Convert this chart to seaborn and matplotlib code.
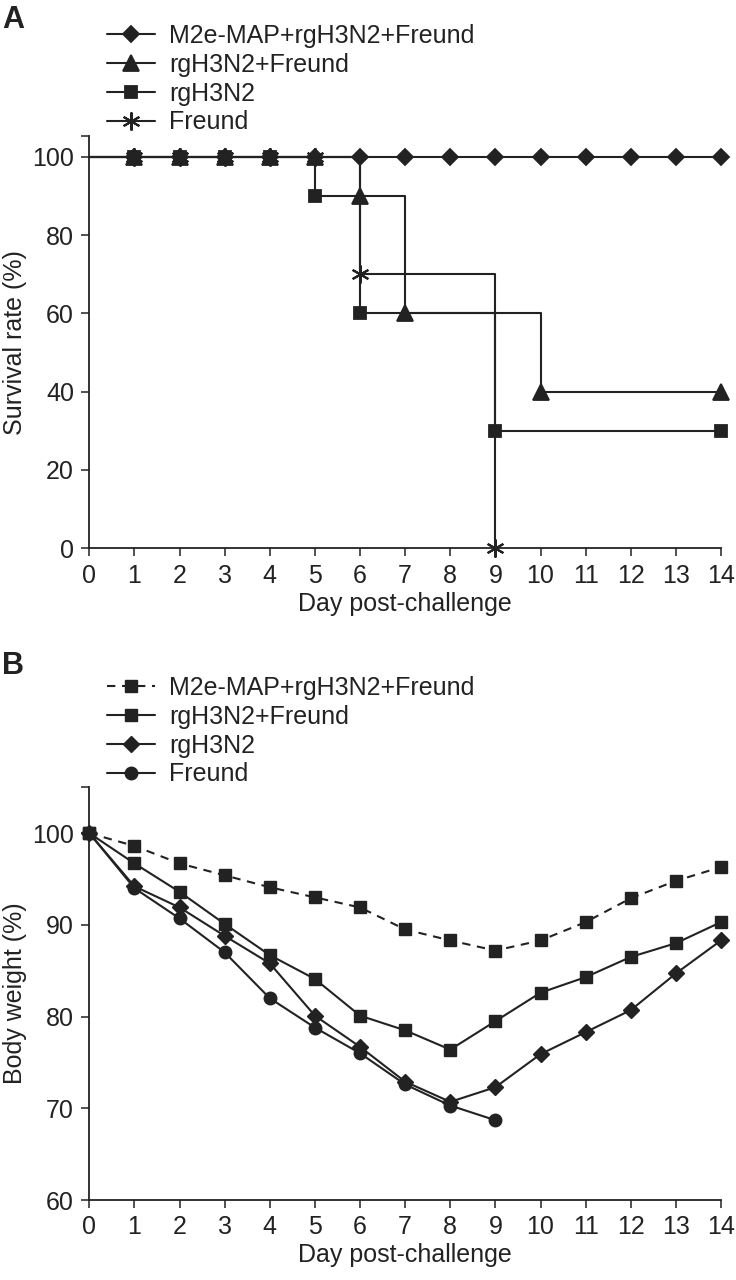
import matplotlib
matplotlib.use("Agg")
import matplotlib.pyplot as plt
import seaborn as sns

# ---------------- Panel A: survival (%) ----------------
surv_labels = ["M2e-MAP+rgH3N2+Freund", "rgH3N2+Freund", "rgH3N2", "Freund"]
surv_m2e_days = [0, 1, 2, 3, 4, 5, 6, 7, 8, 9, 10, 11, 12, 13, 14]
surv_m2e_vals = [100, 100, 100, 100, 100, 100, 100, 100, 100, 100, 100, 100, 100, 100, 100]
surv_rgf_days = [0, 1, 2, 3, 4, 5, 6, 7, 10, 14]
surv_rgf_vals = [100, 100, 100, 100, 100, 100, 90, 60, 40, 40]
surv_rg_days = [0, 1, 2, 3, 4, 5, 6, 9, 14]
surv_rg_vals = [100, 100, 100, 100, 100, 90, 60, 30, 30]
surv_fr_days = [0, 1, 2, 3, 4, 5, 6, 9]
surv_fr_vals = [100, 100, 100, 100, 100, 100, 70, 0]

# ---------------- Panel B: body weight (%) ----------------
bw_labels = ["M2e-MAP+rgH3N2+Freund", "rgH3N2+Freund", "rgH3N2", "Freund"]
bw_days = [0, 1, 2, 3, 4, 5, 6, 7, 8, 9, 10, 11, 12, 13, 14]
bw_m2e = [100, 98.6, 96.7, 95.4, 94.1, 93.0, 91.9, 89.5, 88.3, 87.2, 88.3, 90.3, 92.9, 94.8, 96.3]
bw_rgf = [100, 96.7, 93.6, 90.1, 86.7, 84.1, 80.1, 78.5, 76.4, 79.5, 82.6, 84.3, 86.5, 88.0, 90.3]
bw_rg = [100, 94.2, 91.9, 88.8, 85.8, 80.1, 76.7, 72.9, 70.7, 72.3, 75.9, 78.3, 80.7, 84.7, 88.3]
bw_fr_days = [0, 1, 2, 3, 4, 5, 6, 7, 8, 9]
bw_fr = [100, 94.0, 90.7, 87.0, 82.0, 78.8, 76.0, 72.6, 70.3, 68.7]

xticks = list(range(0, 15))
yticks_a = [0, 20, 40, 60, 80, 100]
yticks_b = [60, 70, 80, 90, 100]

sns.set_style("ticks")
plt.rcParams["font.family"] = ["Liberation Sans", "DejaVu Sans"]

INK = "#222222"
FS = 18
LW = 1.5

W, H = 736, 1280
fig = plt.figure(figsize=(W / 100, H / 100), dpi=100)

def fx(px):
    return px / W

def fy(py):
    return 1 - py / H

axA = fig.add_axes([fx(89.3), fy(548.3), fx(721) - fx(89.3), fy(136) - fy(548.3)])
axB = fig.add_axes([fx(89.3), fy(1200), fx(721) - fx(89.3), fy(787.3) - fy(1200)])

star = (6, 2, 0)

# Panel A lines
a_series = [
    (surv_m2e_days, surv_m2e_vals, "D", 8.5, 1.3),
    (surv_rgf_days, surv_rgf_vals, "^", 11.5, 1.3),
    (surv_rg_days, surv_rg_vals, "s", 8.3, 1.3),
    (surv_fr_days, surv_fr_vals, star, 13, 1.5),
]
for (d, v, m, ms, mew), lab in zip(a_series, surv_labels):
    sns.lineplot(x=d, y=v, ax=axA, color=INK, lw=LW, marker=m, markersize=ms,
                 markeredgewidth=mew, markeredgecolor=INK, markerfacecolor=INK,
                 drawstyle="steps-post", markevery=list(range(1, len(d))),
                 clip_on=False, label=lab, legend=False, zorder=3)

# Panel B lines
b_series = [
    (bw_days, bw_m2e, "s", 8.5, (0, (4, 3.2))),
    (bw_days, bw_rgf, "s", 8.5, "-"),
    (bw_days, bw_rg, "D", 7.8, "-"),
    (bw_fr_days, bw_fr, "o", 9, "-"),
]
for (d, v, m, ms, ls), lab in zip(b_series, bw_labels):
    sns.lineplot(x=d, y=v, ax=axB, color=INK, lw=LW, marker=m, markersize=ms,
                 markeredgewidth=1.0, markeredgecolor=INK, markerfacecolor=INK,
                 linestyle=ls, clip_on=False, label=lab, legend=False, zorder=3)

for ax, yt, ylim, ylab in [(axA, yticks_a, (0, 105.3), "Survival rate (%)"),
                           (axB, yticks_b, (60, 105), "Body weight (%)")]:
    ax.set_xlim(0, 14)
    ax.set_ylim(*ylim)
    ax.set_xticks(xticks)
    ax.set_yticks(yt)
    ax.set_yticks([ylim[1]], minor=True)
    ax.set_xticklabels([str(t) for t in xticks], fontsize=FS, color=INK)
    ax.set_yticklabels([str(t) for t in yt], fontsize=FS, color=INK)
    ax.tick_params(which="both", direction="out", length=6, width=1.1, color=INK, pad=5)
    ax.tick_params(axis="x", which="minor", length=0)
    sns.despine(ax=ax)
    for s in ["left", "bottom"]:
        ax.spines[s].set_linewidth(1.3)
        ax.spines[s].set_color(INK)
    ax.set_xlabel("Day post-challenge", fontsize=FS, color=INK, labelpad=3)
    ax.set_ylabel(ylab, fontsize=FS, color=INK, labelpad=4)
    ax.grid(False)

# legends
for ax, top in [(axA, 24), (axB, 676)]:
    h, l = ax.get_legend_handles_labels()
    leg = ax.legend(h, l, loc="upper left", bbox_to_anchor=(fx(107), fy(top)),
                    bbox_transform=fig.transFigure, frameon=False, fontsize=FS,
                    handlelength=1.92, handletextpad=0.56, labelspacing=0.19,
                    borderpad=0, borderaxespad=0)
    for t in leg.get_texts():
        t.set_color(INK)

fig.text(fx(2), fy(5), "A", fontsize=22, fontweight="bold", color=INK, va="top", ha="left")
fig.text(fx(2), fy(651), "B", fontsize=22, fontweight="bold", color=INK, va="top", ha="left")

fig.savefig("out.png", dpi=100)
